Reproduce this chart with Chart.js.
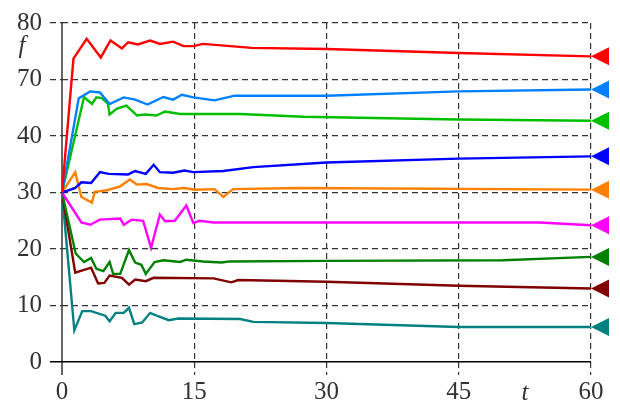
<!DOCTYPE html>
<html>
<head>
<meta charset="utf-8">
<script src="https://cdn.jsdelivr.net/npm/chart.js@4"></script>
<style>
  html, body { margin: 0; padding: 0; background: #fff; }
  #wrap { width: 620px; height: 406px; }
</style>
</head>
<body>
<div id="wrap"><canvas id="fChart"></canvas></div>
<script>
// y axis is broken: evenly spaced ticks carry these labels
const yTickLabels = [0, 10, 20, 30, 40, 70, 80];
const xTicks = [0, 15, 30, 45, 60];

const redT = [0, 1.3, 2.8, 4.4, 5.5, 6.8, 7.5, 8.6, 10, 11.1, 12.6, 13.8, 14.9, 16, 21.5, 30, 45, 60];
const redF = [30, 73.7, 77.2, 73.9, 76.9, 75.5, 76.6, 76.2, 76.9, 76.3, 76.7, 75.9, 75.9, 76.3, 75.6, 75.4, 74.7, 74.1];

const skyT = [0, 1.9, 3.2, 4.3, 5.4, 7, 8.3, 9.7, 11.5, 12.6, 13.6, 14.9, 17.3, 19.6, 30, 45, 60];
const skyF = [30, 60.1, 63.7, 63.1, 57, 60.5, 59.3, 56.7, 60.7, 59.3, 61.9, 60.5, 58.9, 61.4, 61.4, 63.7, 64.7];

const greenT = [0, 2.5, 3.4, 3.9, 4.5, 5.2, 5.4, 6.2, 7.3, 8.5, 9.4, 10.7, 11.7, 13.4, 20.2, 27.4, 45, 60];
const greenF = [30, 60.7, 57, 60.5, 60.1, 57.2, 51.4, 54.4, 56.1, 50.9, 51.4, 50.9, 53, 51.7, 51.7, 50.2, 48.8, 48.1];

const blueT = [0, 1.5, 2.2, 3.3, 4.3, 5.3, 7.5, 8.3, 9.5, 10.4, 11.1, 12.6, 13.9, 14.9, 18.3, 21.7, 30, 45, 60];
const blueF = [30, 30.8, 31.8, 31.7, 33.6, 33.3, 33.2, 33.8, 33.3, 34.9, 33.6, 33.5, 33.9, 33.6, 33.8, 34.5, 35.3, 36.0, 36.4];

const orangeT = [0, 1.5, 2.2, 3.4, 3.7, 5.1, 6.6, 7.7, 8.5, 9.6, 10.9, 12.6, 13.8, 15.1, 17.3, 18.3, 19.4, 27, 60];
const orangeF = [30, 33.6, 29.2, 28.2, 30.1, 30.4, 31.1, 32.3, 31.4, 31.5, 30.8, 30.6, 30.8, 30.5, 30.6, 29.2, 30.6, 30.8, 30.5];

const magentaT = [0, 2.2, 3.2, 4.3, 6.6, 7, 7.9, 9.2, 10.1, 11.1, 11.7, 12.8, 14.1, 14.9, 15.6, 17.2, 54.2, 60];
const magentaF = [30, 24.7, 24.3, 25.2, 25.4, 24.3, 25.2, 25.0, 20.2, 26.1, 24.9, 25.0, 27.7, 24.6, 25.0, 24.7, 24.7, 24.2];

const dgreenT = [0, 1.55, 2.5, 3.3, 3.9, 4.7, 5.4, 5.8, 6.6, 7.6, 8.3, 9.0, 9.5, 10.5, 11.5, 13.4, 14.1, 16, 18.1, 19, 30, 50, 60];
const dgreenF = [30, 19.2, 17.7, 18.4, 16.5, 16.1, 17.7, 15.6, 15.6, 19.8, 17.6, 17.2, 15.6, 17.7, 18.0, 17.7, 18.1, 17.8, 17.6, 17.8, 17.9, 18.0, 18.6];

const maroonT = [0, 1.5, 2.5, 3.3, 4.1, 4.8, 5.4, 6.8, 7.6, 8.3, 9.5, 10.4, 17.2, 19.2, 20, 30, 45, 60];
const maroonF = [30, 15.8, 16.3, 16.7, 13.9, 14.0, 15.3, 14.9, 13.7, 14.6, 14.3, 14.9, 14.8, 14.1, 14.5, 14.2, 13.5, 13.0];

const tealT = [0, 1.4, 2.3, 3.3, 4.9, 5.4, 6.1, 7.0, 7.6, 8.2, 9.1, 10, 10.9, 12.1, 13.2, 20.2, 21.7, 30, 45, 60];
const tealF = [30, 5.6, 9.0, 9.0, 8.2, 7.2, 8.7, 8.7, 9.6, 6.7, 7.0, 8.7, 8.1, 7.4, 7.7, 7.6, 7.1, 6.9, 6.2, 6.2];

// map an f value onto the evenly spaced tick index axis
function toAxis(f) {
    for (let i = 0; i < yTickLabels.length - 1; i++) {
        const a = yTickLabels[i], b = yTickLabels[i + 1];
        if (f <= b) return i + (f - a) / (b - a);
    }
    return yTickLabels.length - 1;
}

function series(ts, fs, color) {
    return {
        data: ts.map((t, i) => ({ x: t, y: toAxis(fs[i]) })),
        borderColor: color,
        backgroundColor: color,
        borderWidth: 2.4,
        pointRadius: 0,
        tension: 0,
        fill: false
    };
}

const serif = 'Liberation Serif, Times New Roman, serif';

const endMarkers = {
    id: 'endMarkers',
    afterDatasetsDraw(chart) {
        const ctx = chart.ctx;
        chart.data.datasets.forEach((ds, i) => {
            const pts = chart.getDatasetMeta(i).data;
            const p = pts[pts.length - 1];
            ctx.save();
            ctx.fillStyle = ds.borderColor;
            ctx.beginPath();
            ctx.moveTo(p.x, p.y);
            ctx.lineTo(p.x + 18, p.y - 9);
            ctx.lineTo(p.x + 18, p.y + 9);
            ctx.closePath();
            ctx.fill();
            ctx.restore();
        });
    }
};

const axisNames = {
    id: 'axisNames',
    afterDraw(chart) {
        const ctx = chart.ctx;
        const x = chart.scales.x, y = chart.scales.y;
        ctx.save();
        ctx.fillStyle = '#333';
        ctx.font = 'italic 25px ' + serif;
        ctx.textAlign = 'center';
        ctx.textBaseline = 'middle';
        ctx.fillText('f', 22, y.getPixelForValue(5.59));
        ctx.fillText('t', x.getPixelForValue(52.5), x.top + 31);
        ctx.restore();
    }
};

const isZero = c => c.tick && c.tick.value === 0;

Chart.defaults.font.family = serif;

const ctx = document.getElementById('fChart').getContext('2d');
const fChart = new Chart(ctx, {
    type: 'line',
    data: {
        datasets: [
            series(redT, redF, '#ff0000'),
            series(skyT, skyF, '#0080ff'),
            series(greenT, greenF, '#00bf00'),
            series(blueT, blueF, '#0000ff'),
            series(orangeT, orangeF, '#ff8000'),
            series(magentaT, magentaF, '#ff00ff'),
            series(dgreenT, dgreenF, '#008000'),
            series(maroonT, maroonF, '#800000'),
            series(tealT, tealF, '#008080')
        ]
    },
    options: {
        responsive: true,
        maintainAspectRatio: false,
        animation: false,
        layout: { padding: { top: 22, right: 29, left: 0, bottom: 0 } },
        plugins: { legend: { display: false }, tooltip: { enabled: false } },
        scales: {
            x: {
                type: 'linear',
                min: 0,
                max: 60,
                afterBuildTicks: s => { s.ticks = xTicks.map(v => ({ value: v })); },
                afterFit: s => { s.height = 44; },
                ticks: {
                    color: '#333',
                    font: { family: serif, size: 25 },
                    padding: 2,
                    maxRotation: 0
                },
                grid: {
                    color: c => isZero(c) ? '#666' : '#333',
                    lineWidth: c => isZero(c) ? 2 : 1.2,
                    tickColor: c => isZero(c) ? '#666' : '#333',
                    tickWidth: c => isZero(c) ? 2 : 1.2,
                    tickBorderDash: c => isZero(c) ? [] : [6, 4],
                    tickLength: 13
                },
                border: { display: false, dash: c => isZero(c) ? [] : [6, 4] }
            },
            y: {
                type: 'linear',
                min: 0,
                max: 6,
                afterBuildTicks: s => { s.ticks = yTickLabels.map((v, i) => ({ value: i })); },
                afterFit: s => { s.width = 62; },
                ticks: {
                    color: '#333',
                    font: { family: serif, size: 25 },
                    padding: 8,
                    callback: v => yTickLabels[v]
                },
                grid: {
                    color: c => isZero(c) ? '#000' : '#333',
                    lineWidth: c => isZero(c) ? 1.5 : 1.2,
                    tickColor: c => isZero(c) ? '#000' : '#333',
                    tickWidth: c => isZero(c) ? 1.5 : 1.2,
                    tickBorderDash: c => isZero(c) ? [] : [6, 4],
                    tickLength: 12
                },
                border: { display: false, dash: c => isZero(c) ? [] : [6, 4] }
            }
        }
    },
    plugins: [endMarkers, axisNames]
});
</script>
</body>
</html>
